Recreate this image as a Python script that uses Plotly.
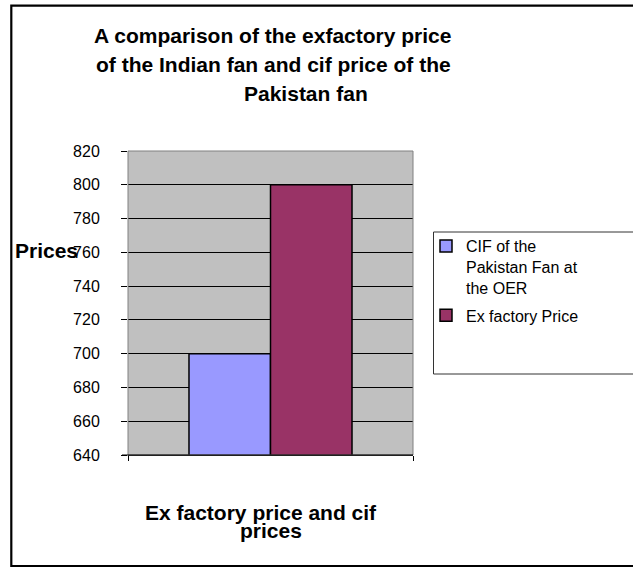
import plotly.graph_objects as go

# ---- data ----
categories = ["Ex factory price and cif prices"]
series_names = ["CIF of the<br>Pakistan Fan at<br>the OER", "Ex factory Price"]
cif_values = [700]
exfactory_values = [800]
y_ticks = [640, 660, 680, 700, 720, 740, 760, 780, 800, 820]
title_lines = ["A comparison of the exfactory price",
               "of the Indian fan and cif price of the",
               "Pakistan fan"]
xtitle_lines = ["Ex factory price and cif", "prices"]
ytitle = "Prices"

# ---- layout geometry (pixels) ----
W, H = 633, 567
L, R, T, B = 128, 413, 151, 455


def px(x):
    return (x - L) / (R - L)


def py(y):
    return (B - y) / (B - T)


FONT = "Liberation Sans, Arial, sans-serif"

fig = go.Figure()
fig.add_trace(go.Bar(x=categories, y=cif_values, name=series_names[0], legendgroup="g1",
                     marker=dict(color="#9999FF", line=dict(color="black", width=1.5))))
fig.add_trace(go.Bar(x=categories, y=exfactory_values, name=series_names[1], legendgroup="g2",
                     marker=dict(color="#993366", line=dict(color="black", width=1.5))))

annotations = []
# title lines (left x, cap-centre y)
for text, x, y in zip(title_lines, [92, 94, 242], [36, 65, 93.5]):
    annotations.append(dict(text="<b>%s</b>" % text, x=px(x), y=py(y), xref="paper", yref="paper",
                            xanchor="left", yanchor="middle", showarrow=False,
                            font=dict(family=FONT, size=21, color="black")))
for text, x, y in zip(xtitle_lines, [143, 238], [512, 530]):
    annotations.append(dict(text="<b>%s</b>" % text, x=px(x), y=py(y), xref="paper", yref="paper",
                            xanchor="left", yanchor="middle", showarrow=False,
                            font=dict(family=FONT, size=21, color="black")))
annotations.append(dict(text="<b>%s</b>" % ytitle, x=px(13), y=py(250), xref="paper", yref="paper",
                        xanchor="left", yanchor="middle", showarrow=False,
                        font=dict(family=FONT, size=21, color="black")))

shapes = [
    # outer chart border
    dict(type="rect", xref="paper", yref="paper", x0=px(11.3), x1=px(660), y0=py(566), y1=py(5.7),
         line=dict(color="black", width=2.2), layer="above"),
    # legend box
    dict(type="rect", xref="paper", yref="paper", x0=px(433.5), x1=px(660), y0=py(374), y1=py(232),
         line=dict(color="#333333", width=1), layer="above"),
    # plot area border
    dict(type="rect", xref="paper", yref="paper", x0=0, x1=1, y0=0, y1=1,
         line=dict(color="#808080", width=1), layer="above"),
    # x axis line extended to tick
    dict(type="line", xref="paper", yref="paper", x0=px(122), x1=1, y0=0, y1=0,
         line=dict(color="black", width=1), layer="above"),
]

fig.update_layout(
    width=W, height=H,
    margin=dict(l=L, r=W - R, t=T, b=H - B, pad=0),
    paper_bgcolor="white", plot_bgcolor="#C0C0C0",
    barmode="group", bargap=0.428, bargroupgap=0,
    font=dict(family=FONT, color="black", size=16),
    showlegend=True,
    legend=dict(x=px(426), y=py(229), xanchor="left", yanchor="top", valign="top",
                bgcolor="rgba(0,0,0,0)", borderwidth=0, tracegroupgap=4,
                font=dict(family=FONT, size=16, color="black"),
                traceorder="grouped"),
    annotations=annotations,
    shapes=shapes,
)
fig.update_xaxes(type="category", showticklabels=False, ticks="outside", tickson="boundaries",
                 ticklen=5, tickcolor="black", showline=True, linecolor="black", linewidth=1,
                 showgrid=False, zeroline=False)
fig.update_yaxes(range=[640, 820], tickvals=y_ticks, ticks="outside", ticklen=6, tickcolor="black",
                 showgrid=True, gridcolor="black", gridwidth=1, zeroline=False, showline=False,
                 tickfont=dict(family=FONT, size=16, color="black"), ticklabelstandoff=18)

fig.write_html("out.html")
